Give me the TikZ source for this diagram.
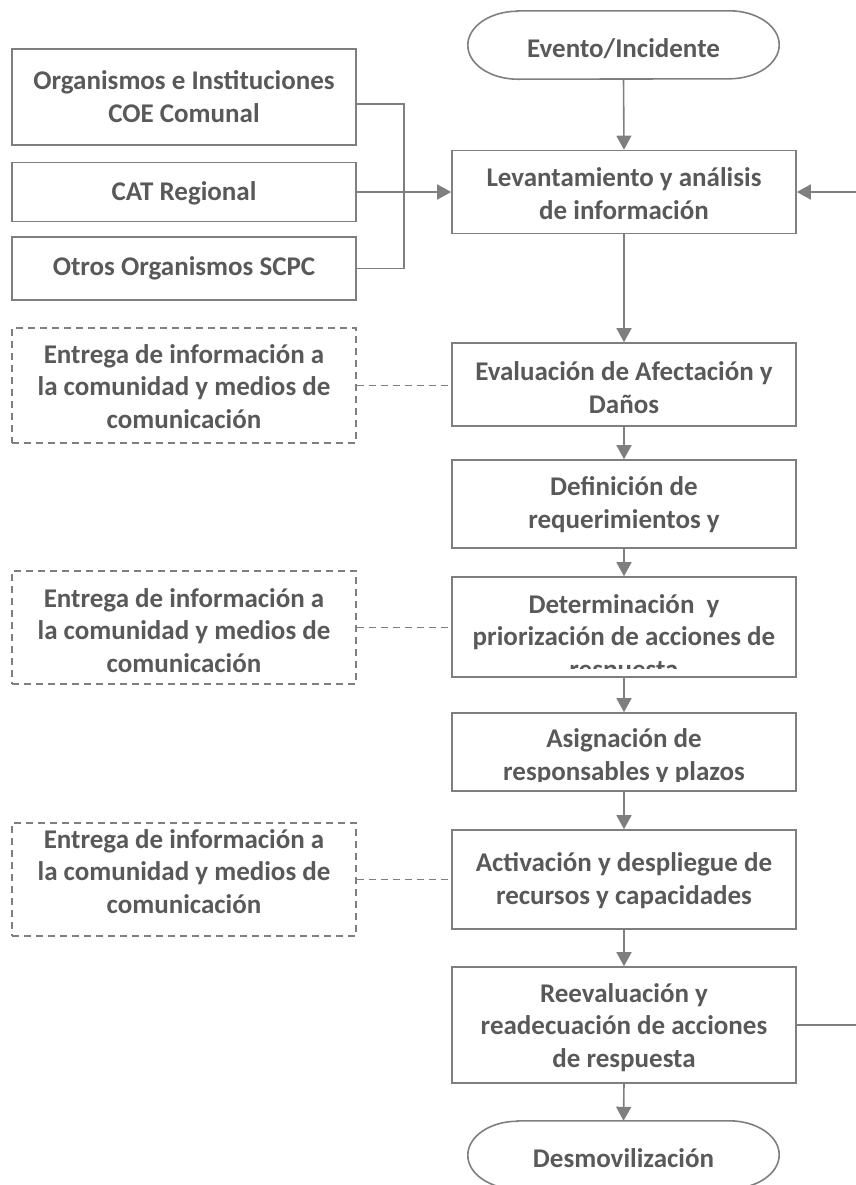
\documentclass[tikz,border=0pt]{standalone}
\usepackage{fontspec}
\setmainfont{Carlito}
\usetikzlibrary{arrows.meta}
\definecolor{txt}{HTML}{595959}
\definecolor{ln}{HTML}{7F7F7F}
\begin{document}
\begin{tikzpicture}[x=1bp,y=1bp,
  box/.style={draw=ln, line width=1.6bp, minimum width=344bp, inner sep=0},
  dbox/.style={draw=ln, line width=1.3bp, dash pattern=on 7bp off 5bp, minimum width=344bp, inner sep=0},
  term/.style={minimum width=311bp, minimum height=68bp, inner sep=0},
  termline/.style={draw=ln, line width=1.6bp},
  lbl/.style={font=\fontsize{27bp}{32.5bp}\selectfont\bfseries, text=txt, align=center, anchor=base, inner sep=0},
  arr/.style={draw=ln, line width=1.6bp, -{Triangle[width=15bp,length=14bp]}},
  con/.style={draw=ln, line width=1.6bp},
  dcon/.style={draw=ln, line width=1.3bp, dash pattern=on 7bp off 5bp}]
\useasboundingbox (0,0) rectangle (856,-1185);
\clip (0,0) rectangle (856,-1185);

% terminators
\node[term] (ev) at (623.5,-45) {};
\draw[termline] ([xshift=50bp]ev.north west) -- ([xshift=-50bp]ev.north east)
  arc[start angle=90,end angle=-90,x radius=50bp,y radius=34bp]
  -- ([xshift=50bp]ev.south west)
  arc[start angle=270,end angle=90,x radius=50bp,y radius=34bp] -- cycle;
\node[lbl] (evT) at (623.5,-57) {Evento/Incidente};

\node[term] (des) at (623.5,-1155) {};
\draw[termline] ([xshift=50bp]des.north west) -- ([xshift=-50bp]des.north east)
  arc[start angle=90,end angle=-90,x radius=50bp,y radius=34bp]
  -- ([xshift=50bp]des.south west)
  arc[start angle=270,end angle=90,x radius=50bp,y radius=34bp] -- cycle;
\node[lbl] (desT) at (623.5,-1167) {Desmovilización};

% main column (label y = baseline of last line)
\node[box, minimum height=83bp] (lev) at (624,-192) {};
\node[lbl] (levT) at (624,-219) {Levantamiento y análisis\\de información};

\node[box, minimum height=83bp] (eva) at (624,-384.5) {};
\node[lbl] (evaT) at (624,-413) {Evaluación de Afectación y\\Daños};

\node[box, minimum height=88bp] (def) at (624,-504) {};
\node[lbl] (defT) at (624,-528) {Definición de\\requerimientos y};

\node[box, minimum height=100bp] (det) at (624,-627) {};
\begin{scope}
\clip ([shift={(2bp,-2bp)}]det.north west) rectangle ([shift={(-2bp,9bp)}]det.south east);
\node[lbl] (detT) at (624,-678) {Determinación~ y\\priorización de acciones de\\respuesta};
\end{scope}

\node[box, minimum height=78bp] (asi) at (624,-752) {};
\begin{scope}
\clip ([shift={(2bp,-2bp)}]asi.north west) rectangle ([shift={(-2bp,10bp)}]asi.south east);
\node[lbl] (asiT) at (624,-780) {Asignación de\\responsables y plazos};
\end{scope}

\node[box, minimum height=99bp] (act) at (624,-879.5) {};
\node[lbl] (actT) at (624,-904) {Activación y despliegue de\\recursos y capacidades};

\node[box, minimum height=116bp] (ree) at (624,-1025) {};
\node[lbl] (reeT) at (624,-1067) {Reevaluación y\\readecuación de acciones\\de respuesta};

% left column
\node[box, minimum height=96bp] (org) at (184,-97) {};
\node[lbl] (orgT) at (184,-122) {Organismos e Instituciones\\COE Comunal};

\node[box, minimum height=59bp] (cat) at (184,-192) {};
\node[lbl] (catT) at (184,-200) {CAT Regional};

\node[box, minimum height=63bp] (oth) at (184,-268.5) {};
\node[lbl] (othT) at (184,-275) {Otros Organismos SCPC};

\node[dbox, minimum height=115bp] (d1) at (184,-385.5) {};
\node[lbl] (d1T) at (184,-428) {Entrega de información a\\la comunidad y medios de\\comunicación};

\node[dbox, minimum height=113bp] (d2) at (184,-627.5) {};
\node[lbl] (d2T) at (184,-672) {Entrega de información a\\la comunidad y medios de\\comunicación};

\node[dbox, minimum height=113bp] (d3) at (184,-879.5) {};
\node[lbl] (d3T) at (184,-913) {Entrega de información a\\la comunidad y medios de\\comunicación};

% connectors
\draw[arr] (ev.south) -- (lev.north);
\draw[arr] (lev.south) -- (eva.north);
\draw[arr] (eva.south) -- (def.north);
\draw[arr] (def.south) -- (det.north);
\draw[arr] (det.south) -- (asi.north);
\draw[arr] (asi.south) -- (act.north);
\draw[arr] (act.south) -- (ree.north);
\draw[arr] (ree.south) -- (des.north);

\coordinate (jn) at (404,-192);
\draw[con] ([yshift=-7bp]org.east) -| (jn);
\draw[con] (oth.east) -| (jn);
\draw[arr] (cat.east) -- (lev.west);

\coordinate (rr) at (859,-1025);
\draw[arr] (ree.east) -- (rr) |- (lev.east);

\draw[dcon] (d1.east) -- (d1.east -| eva.west);
\draw[dcon] (d2.east) -- (d2.east -| det.west);
\draw[dcon] (d3.east) -- (d3.east -| act.west);
\end{tikzpicture}
\end{document}
